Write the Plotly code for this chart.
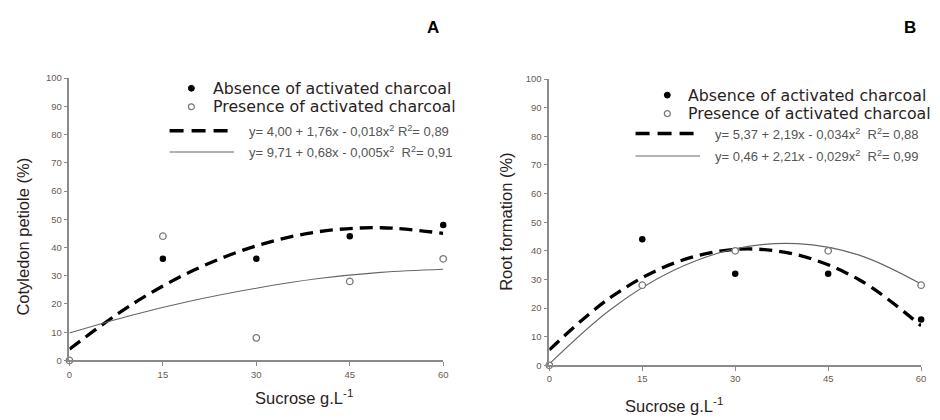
import plotly.graph_objects as go

sucrose = [0, 15, 30, 45, 60]

# Panel A - Cotyledon petiole (%)
a_absence = [0, 36, 36, 44, 48]
a_presence = [0, 44, 8, 28, 36]
# Fitted curves
curve_x = [0, 10, 20, 30, 40, 50, 60]
a_fit_absence = [4.0, 19.8, 32.0, 40.6, 45.6, 47.0, 45.0]
a_fit_presence = [9.7, 16.0, 21.3, 25.6, 29.0, 31.2, 32.3]

# Panel B - Root formation (%)
b_absence = [0, 44, 32, 32, 16]
b_presence = [0, 28, 40, 40, 28]
b_fit_absence = [5.4, 23.9, 35.6, 40.5, 38.6, 29.9, 13.8]
b_fit_presence = [0.5, 19.7, 33.1, 40.7, 42.5, 38.5, 28.4]

x_ticks = [0, 15, 30, 45, 60]
y_ticks = [0, 10, 20, 30, 40, 50, 60, 70, 80, 90, 100]

legend_absence = "Absence of activated charcoal"
legend_presence = "Presence of activated charcoal"
eq_a1 = "y= 4,00 + 1,76x - 0,018x<sup>2</sup> R<sup>2</sup>= 0,89"
eq_a2 = "y= 9,71 + 0,68x - 0,005x<sup>2</sup>  R<sup>2</sup>= 0,91"
eq_b1 = "y= 5,37 + 2,19x - 0,034x<sup>2</sup>  R<sup>2</sup>= 0,88"
eq_b2 = "y= 0,46 + 2,21x - 0,029x<sup>2</sup>  R<sup>2</sup>= 0,99"

W, H = 940, 420
def px(x): return x / W
def py(y): return 1 - y / H

FONT = "Liberation Sans, Arial, sans-serif"
fig = go.Figure()

DASH = "13px,7px"
panels = [
    ("x", "y", a_absence, a_presence, a_fit_absence, a_fit_presence),
    ("x2", "y2", b_absence, b_presence, b_fit_absence, b_fit_presence),
]
for xa, ya, ab, pr, fa, fp in panels:
    fig.add_trace(go.Scatter(x=curve_x, y=fa, mode="lines", line=dict(color="black", width=3.3, dash=DASH, shape="spline"),
                             xaxis=xa, yaxis=ya, showlegend=False, cliponaxis=False, hoverinfo="skip"))
    fig.add_trace(go.Scatter(x=curve_x, y=fp, mode="lines", line=dict(color="#666666", width=1.1, shape="spline"),
                             xaxis=xa, yaxis=ya, showlegend=False, cliponaxis=False, hoverinfo="skip"))
    fig.add_trace(go.Scatter(x=sucrose, y=ab, mode="markers", marker=dict(color="black", size=6.5),
                             xaxis=xa, yaxis=ya, showlegend=False, cliponaxis=False))
    fig.add_trace(go.Scatter(x=sucrose, y=pr, mode="markers",
                             marker=dict(color="white", size=6.5, line=dict(color="#777777", width=1.3)),
                             xaxis=xa, yaxis=ya, showlegend=False, cliponaxis=False))

axis_common = dict(showgrid=False, zeroline=False, showline=True, linecolor="#8a8a8a", linewidth=1.5,
                   ticks="outside", ticklen=4, tickcolor="#8a8a8a", tickwidth=1.2,
                   tickfont=dict(family=FONT, size=9.5, color="#6a5a50"))

fig.update_layout(
    width=W, height=H, margin=dict(l=0, r=0, t=0, b=0),
    paper_bgcolor="white", plot_bgcolor="white",
    xaxis=dict(domain=[px(67), px(444)], range=[0, 60], tickvals=x_ticks, anchor="y", **axis_common),
    yaxis=dict(domain=[py(364), py(74)], range=[0, 100], tickvals=y_ticks, anchor="x", **axis_common),
    xaxis2=dict(domain=[px(551), px(926)], range=[0, 60], tickvals=x_ticks, anchor="y2", **axis_common),
    yaxis2=dict(domain=[py(369), py(75)], range=[0, 100], tickvals=y_ticks, anchor="x2", **axis_common),
)

ann = []
shapes = []
title_font = dict(family=FONT, size=16.5, color="#2a1e22")
# axis titles
ann.append(dict(x=px(252), y=py(402), xref="paper", yref="paper", text="Sucrose g.L<sup>-1</sup>", showarrow=False,
                yanchor="middle", font=title_font))
ann.append(dict(x=px(20), y=py(237), xref="paper", yref="paper", text="Cotyledon petiole (%)", showarrow=False,
                textangle=-90, xanchor="center", yanchor="middle", font=title_font))
ann.append(dict(x=px(728), y=py(410), xref="paper", yref="paper", text="Sucrose g.L<sup>-1</sup>", showarrow=False,
                yanchor="middle", font=title_font))
ann.append(dict(x=px(508), y=py(222), xref="paper", yref="paper", text="Root formation (%)", showarrow=False,
                textangle=-90, xanchor="center", yanchor="middle", font=title_font))
# panel letters
ann.append(dict(x=px(434), y=py(22), xref="paper", yref="paper", text="<b>A</b>", showarrow=False,
                yanchor="middle", font=dict(family=FONT, size=17, color="black")))
ann.append(dict(x=px(923), y=py(22), xref="paper", yref="paper", text="<b>B</b>", showarrow=False,
                yanchor="middle", font=dict(family=FONT, size=17, color="black")))

leg_font = dict(family="DejaVu Sans, Liberation Sans, sans-serif", size=15.8, color="#2a1e22")
eq_font = dict(family=FONT, size=13, color="#555555")

legends = [
    # dot_x, text_x, y_abs, y_pre, line_x0, line_x1d, line_x1s, eq_x, y_eq1, y_eq2, eq1, eq2
    (190, 211, 84.5, 103.5, 168, 227, 233, 246, 128, 150, eq_a1, eq_a2),
    (670, 690, 91.5, 110.5, 638, 698, 703, 716, 131, 154, eq_b1, eq_b2),
]
for dx, tx, ya_, yp_, lx0, lx1d, lx1s, ex, ye1, ye2, e1, e2 in legends:
    ann.append(dict(x=px(tx), y=py(ya_), xref="paper", yref="paper", text=legend_absence, showarrow=False,
                    xanchor="left", yanchor="middle", font=leg_font, borderpad=0))
    ann.append(dict(x=px(tx), y=py(yp_), xref="paper", yref="paper", text=legend_presence, showarrow=False,
                    xanchor="left", yanchor="middle", font=leg_font, borderpad=0))
    ann.append(dict(x=px(ex), y=py(ye1), xref="paper", yref="paper", text=e1, showarrow=False,
                    xanchor="left", yanchor="middle", font=eq_font))
    ann.append(dict(x=px(ex), y=py(ye2), xref="paper", yref="paper", text=e2, showarrow=False,
                    xanchor="left", yanchor="middle", font=eq_font))
    shapes.append(dict(type="circle", xref="paper", yref="paper", x0=px(dx - 3), x1=px(dx + 3), y0=py(ya_ + 3), y1=py(ya_ - 3),
                       fillcolor="black", line=dict(color="black", width=1)))
    shapes.append(dict(type="circle", xref="paper", yref="paper", x0=px(dx - 3), x1=px(dx + 3), y0=py(yp_ + 3), y1=py(yp_ - 3),
                       fillcolor="white", line=dict(color="#777777", width=1.2)))
    shapes.append(dict(type="line", xref="paper", yref="paper", x0=px(lx0), x1=px(lx1d), y0=py(ye1), y1=py(ye1),
                       line=dict(color="black", width=3.5, dash="14px,8px")))
    shapes.append(dict(type="line", xref="paper", yref="paper", x0=px(lx0), x1=px(lx1s), y0=py(ye2), y1=py(ye2),
                       line=dict(color="#666666", width=1.1)))

fig.update_layout(annotations=ann, shapes=shapes)
fig.write_html("out.html", config={"displayModeBar": False})

# remove the default browser body margin so the figure sits at the page origin
with open("out.html", "r", encoding="utf-8") as f:
    html = f.read()
html = html.replace("<body>", "<body style=\"margin:0;padding:0;overflow:hidden\">", 1)
with open("out.html", "w", encoding="utf-8") as f:
    f.write(html)
